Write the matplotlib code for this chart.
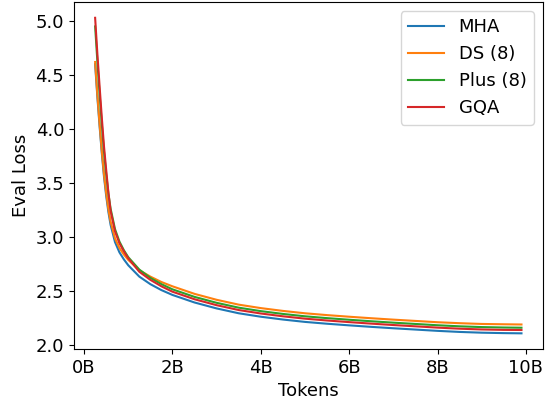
import matplotlib
matplotlib.use("Agg")
import matplotlib.pyplot as plt
from matplotlib.ticker import FuncFormatter

# tokens seen, in billions
tokens = [0.25, 0.3, 0.35, 0.4, 0.45, 0.5, 0.55, 0.6, 0.7, 0.8, 0.9, 1.0, 1.25, 1.5,
          1.75, 2.0, 2.5, 3.0, 3.5, 4.0, 4.5, 5.0, 5.5, 6.0, 6.5, 7.0, 7.5, 8.0,
          8.5, 9.0, 9.5, 9.9]

mha = [4.60, 4.30, 4.03, 3.78, 3.56, 3.38, 3.23, 3.11, 2.95, 2.855, 2.79, 2.735, 2.63,
       2.56, 2.505, 2.46, 2.39, 2.335, 2.29, 2.258, 2.232, 2.21, 2.193, 2.178, 2.164,
       2.151, 2.139, 2.127, 2.117, 2.110, 2.106, 2.104]
ds8 = [4.62, 4.32, 4.05, 3.80, 3.58, 3.405, 3.255, 3.14, 2.985, 2.895, 2.835, 2.785, 2.69,
       2.63, 2.58, 2.54, 2.47, 2.415, 2.37, 2.338, 2.312, 2.29, 2.273, 2.258, 2.244,
       2.231, 2.219, 2.207, 2.198, 2.191, 2.188, 2.186]
plus8 = [4.95, 4.63, 4.33, 4.05, 3.79, 3.58, 3.40, 3.26, 3.07, 2.955, 2.875, 2.81, 2.695,
         2.618, 2.56, 2.512, 2.442, 2.387, 2.342, 2.31, 2.284, 2.262, 2.245, 2.23, 2.216,
         2.203, 2.191, 2.179, 2.169, 2.162, 2.158, 2.156]
gqa = [5.03, 4.70, 4.40, 4.11, 3.84, 3.62, 3.41, 3.24, 3.05, 2.94, 2.865, 2.80, 2.675,
       2.60, 2.54, 2.49, 2.42, 2.365, 2.32, 2.288, 2.262, 2.24, 2.223, 2.208, 2.194,
       2.181, 2.169, 2.157, 2.147, 2.140, 2.136, 2.135]

plt.rcParams["font.size"] = 13

fig = plt.figure(figsize=(5.55, 4.05), dpi=100)
ax = fig.add_axes([0.133, 0.138, 0.845, 0.857])

ax.plot(tokens, mha, label="MHA")
ax.plot(tokens, ds8, label="DS (8)")
ax.plot(tokens, plus8, label="Plus (8)")
ax.plot(tokens, gqa, label="GQA")

ax.xaxis.set_major_formatter(FuncFormatter(lambda v, p: f"{v:.0f}B"))
ax.set_xlabel("Tokens")
ax.set_ylabel("Eval Loss")
ax.legend(loc="upper right")

fig.savefig("out.png", dpi=100)
